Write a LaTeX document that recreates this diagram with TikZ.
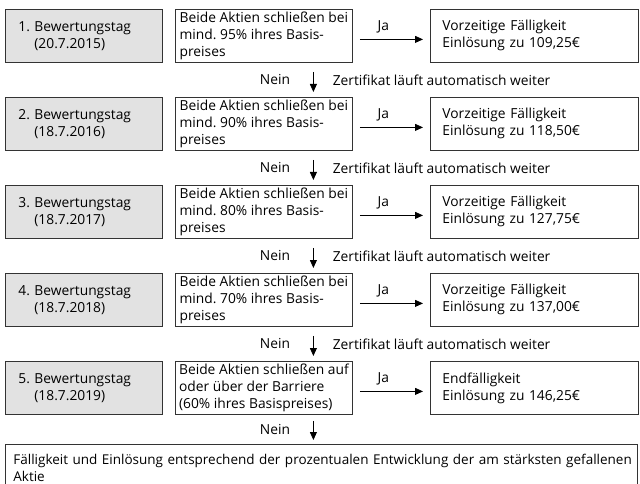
\documentclass[tikz,border=0pt]{standalone}
\usepackage{fontspec}
\setmainfont{Open Sans}
\usetikzlibrary{arrows.meta}
\definecolor{daygray}{HTML}{E2E2E2}
\definecolor{framegray}{HTML}{333333}
\newcommand\bwtag[2]{\makebox[16pt][l]{#1}Bewertungstag\\\hspace*{16pt}(#2)}
\frenchspacing

\begin{document}
\begin{tikzpicture}[x=1pt,y=-1pt,font=\fontsize{13.8}{17}\selectfont,
	every node/.style={inner sep=0pt},
	box/.style={draw=framegray,line width=0.8pt,anchor=north west,minimum height=53pt,align=left},
	daybox/.style={box,fill=daygray,text width=131pt,inner xsep=13pt},
	condbox/.style={box,minimum width=177pt},
	paybox/.style={box,text width=184pt,inner xsep=12pt},
	arr/.style={line width=0.8pt,-{Triangle[length=8pt,width=7pt]}}]
\useasboundingbox (0,0) rectangle (640,484);

\node[daybox] (d1) at (5,9) {\bwtag{1.}{20.7.2015}};
\node[condbox] (c1) at (175,9) {Beide Aktien schließen bei\\mind. 95\% ihres Basis-\\preises};
\node[paybox] (p1) at (430,9) {Vorzeitige Fälligkeit\\Einlösung zu 109,25€};

\node[daybox] (d2) at (5,97) {\bwtag{2.}{18.7.2016}};
\node[condbox] (c2) at (175,97) {Beide Aktien schließen bei\\mind. 90\% ihres Basis-\\preises};
\node[paybox] (p2) at (430,97) {Vorzeitige Fälligkeit\\Einlösung zu 118,50€};

\node[daybox] (d3) at (5,185) {\bwtag{3.}{18.7.2017}};
\node[condbox] (c3) at (175,185) {Beide Aktien schließen bei\\mind. 80\% ihres Basis-\\preises};
\node[paybox] (p3) at (430,185) {Vorzeitige Fälligkeit\\Einlösung zu 127,75€};

\node[daybox] (d4) at (5,273) {\bwtag{4.}{18.7.2018}};
\node[condbox] (c4) at (175,273) {Beide Aktien schließen bei\\mind. 70\% ihres Basis-\\preises};
\node[paybox] (p4) at (430,273) {Vorzeitige Fälligkeit\\Einlösung zu 137,00€};

\node[daybox] (d5) at (5,361) {\bwtag{5.}{18.7.2019}};
\node[condbox] (c5) at (175,361) {Beide Aktien schließen auf\\oder über der Barriere\\(60\% ihres Basispreises)};
\node[paybox] (p5) at (430,361) {Endfälligkeit\\Einlösung zu 146,25€};

\node[box,text width=616pt,inner xsep=8pt,minimum height=46pt,font=\fontsize{13.5}{17}\selectfont] (fin) at (5,444)
	{\mbox{Fälligkeit und Einlösung entsprechend der prozentualen Entwicklung der am stärksten gefallenen}\\Aktie};

\draw[arr,shorten <=7pt,shorten >=7pt] ([yshift=-3.5pt]c1.east) -- ([yshift=-3.5pt]p1.west) node[midway,above=6pt,xshift=-8pt] (j1) {Ja};
\draw[arr,shorten <=7pt,shorten >=7pt] ([yshift=-3.5pt]c2.east) -- ([yshift=-3.5pt]p2.west) node[midway,above=6pt,xshift=-8pt] (j2) {Ja};
\draw[arr,shorten <=7pt,shorten >=7pt] ([yshift=-3.5pt]c3.east) -- ([yshift=-3.5pt]p3.west) node[midway,above=6pt,xshift=-8pt] (j3) {Ja};
\draw[arr,shorten <=7pt,shorten >=7pt] ([yshift=-3.5pt]c4.east) -- ([yshift=-3.5pt]p4.west) node[midway,above=6pt,xshift=-8pt] (j4) {Ja};
\draw[arr,shorten <=7pt,shorten >=7pt] ([yshift=-3.5pt]c5.east) -- ([yshift=-3.5pt]p5.west) node[midway,above=6pt,xshift=-8pt] (j5) {Ja};

\draw[arr,shorten <=9pt,shorten >=5pt] ([xshift=49.5pt]c1.south) -- ([xshift=49.5pt]c2.north)
	node[midway,left=23pt] (n1) {Nein} node[midway,right=19pt] (z1) {Zertifikat läuft automatisch weiter};
\draw[arr,shorten <=9pt,shorten >=5pt] ([xshift=49.5pt]c2.south) -- ([xshift=49.5pt]c3.north)
	node[midway,left=23pt] (n2) {Nein} node[midway,right=19pt] (z2) {Zertifikat läuft automatisch weiter};
\draw[arr,shorten <=9pt,shorten >=5pt] ([xshift=49.5pt]c3.south) -- ([xshift=49.5pt]c4.north)
	node[midway,left=23pt] (n3) {Nein} node[midway,right=19pt] (z3) {Zertifikat läuft automatisch weiter};
\draw[arr,shorten <=9pt,shorten >=5pt] ([xshift=49.5pt]c4.south) -- ([xshift=49.5pt]c5.north)
	node[midway,left=23pt] (n4) {Nein} node[midway,right=19pt] (z4) {Zertifikat läuft automatisch weiter};
\coordinate (k5) at ([xshift=49.5pt]c5.south);
\draw[arr,shorten <=6pt,shorten >=4pt] (k5) -- (k5 |- fin.north) node[midway,left=23pt] (n5) {Nein};
\end{tikzpicture}
\end{document}
